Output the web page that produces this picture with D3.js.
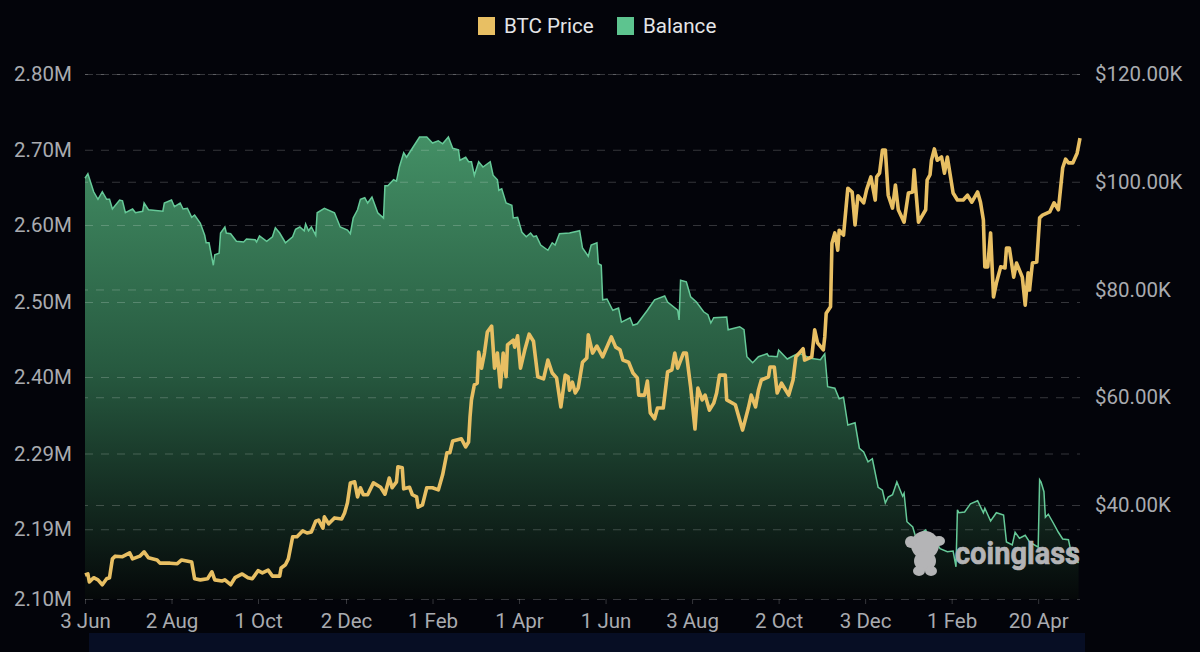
<!DOCTYPE html>
<html>
<head>
<meta charset="utf-8">
<script src="https://cdn.jsdelivr.net/npm/d3@7"></script>
<style>
  html,body{margin:0;padding:0;background:#03040a;}
  #chart{width:1200px;height:652px;overflow:hidden;}
  text{font-family:"Roboto",sans-serif;}
  .axis path{display:none;}
  .axis text{fill:#a9abb0;font-size:20.5px;}
  .grid line{stroke:#ffffff;stroke-opacity:.2;stroke-dasharray:8 8;}
  .x-axis line{stroke:#ffffff;stroke-opacity:.2;}
</style>
</head>
<body>
<div id="chart"></div>
<script>
const legendNames = ["BTC Price","Balance"];
const tickDays = [0,60,120,181,241,301,361,421,481,541,601,661];
const tickLabels = ["3 Jun","2 Aug","1 Oct","2 Dec","1 Feb","1 Apr","1 Jun","3 Aug","2 Oct","3 Dec","1 Feb","20 Apr"];
const balanceTicks = [2.80,2.699,2.5987,2.496,2.396,2.294,2.193,2.10];
const priceTicks = [120,100,80,60,40];

const balanceDays = [0,2,4,6,9,12,15,17,19,24,26,28,33,35,40,41,44,54,55,60,62,66,68,71,74,76,80,83,84,86,89,90,93,94,97,98,101,105,110,112,118,119,121,126,130,132,135,139,144,146,149,152,153,155,157,160,161,166,173,177,182,184,186,189,191,194,196,199,203,207,208,210,214,216,218,
  221,223,227,232,234,237,241,245,248,252,255,259,260,264,266,268,270,273,276,281,283,286,287,289,292,296,297,300,303,306,309,311,313,316,321,324,326,329,336,343,345,349,351,355,356,358,359,362,366,370,372,378,380,383,390,395,402,404,411,412,413,417,420,424,429,432,434,436,445,446,454,457,459,463,467,473,474,480,481,487,491,495,503,510,513,
  515,520,523,526,529,534,537,540,543,546,550,553,555,557,560,563,567,568,570,574,576,583,585,589,593,598,602,604,605,606,610,614,619,623,624,628,632,637,639,643,645,648,652,655,661,662,663,665,666,668,671,675,678,682,684,689];
const balanceValues = [2.661,2.667,2.655,2.643,2.633,2.643,2.633,2.633,2.620,2.632,2.631,2.615,2.620,2.615,2.617,2.628,2.619,2.617,2.628,2.632,2.623,2.628,2.620,2.621,2.609,2.612,2.601,2.585,2.575,2.575,2.545,2.559,2.561,2.588,2.596,2.588,2.587,2.577,2.576,2.580,2.579,2.576,2.584,2.577,2.583,2.595,2.588,2.575,2.583,2.593,2.596,2.591,2.600,2.591,2.596,2.585,2.615,2.621,2.615,2.596,2.592,2.587,2.608,2.619,2.633,2.635,2.628,2.636,2.615,2.608,2.651,2.651,2.659,2.657,2.676,
  2.695,2.689,2.701,2.716,2.716,2.716,2.708,2.711,2.707,2.716,2.701,2.699,2.685,2.689,2.683,2.683,2.665,2.683,2.676,2.683,2.665,2.659,2.645,2.647,2.628,2.625,2.608,2.609,2.589,2.583,2.588,2.583,2.584,2.572,2.565,2.575,2.572,2.587,2.588,2.591,2.568,2.557,2.572,2.575,2.547,2.545,2.499,2.500,2.485,2.488,2.469,2.475,2.465,2.467,2.485,2.499,2.504,2.496,2.485,2.472,2.525,2.523,2.503,2.496,2.483,2.479,2.468,2.475,2.476,2.459,2.463,2.459,2.423,2.415,2.423,2.427,2.424,2.423,2.432,2.420,2.424,2.428,2.421,2.419,2.427,
  2.383,2.381,2.367,2.369,2.332,2.335,2.301,2.296,2.283,2.287,2.249,2.245,2.228,2.236,2.239,2.256,2.237,2.241,2.203,2.196,2.183,2.192,2.183,2.179,2.167,2.163,2.164,2.143,2.219,2.215,2.216,2.227,2.231,2.215,2.221,2.204,2.215,2.212,2.176,2.172,2.189,2.181,2.185,2.176,2.169,2.259,2.256,2.243,2.209,2.213,2.203,2.189,2.180,2.179,2.161,2.148];

const priceDays = [0,2,3,6,9,12,15,17,19,21,26,31,33,38,41,44,50,52,59,64,67,74,76,80,85,88,90,95,97,101,104,109,113,116,120,123,127,130,135,136,139,141,144,147,151,154,157,160,162,165,166,169,173,178,180,182,184,187,189,191,193,196,200,205,208,211,213,216,217,220,221,225,227,230,231,234,237,241,245,248,251,253,255,261,264,266,267,268,270,
  272,273,275,277,279,282,284,286,288,290,292,293,297,298,300,302,305,308,311,314,318,321,324,327,330,333,335,336,338,340,342,345,348,349,352,355,359,365,368,371,373,377,380,383,384,388,390,392,395,397,401,404,407,409,411,415,417,420,423,425,428,430,433,436,438,440,444,445,451,456,460,462,465,467,469,474,475,478,480,483,488,491,493,498,499,504,506,508,512,513,514,
  517,518,520,522,523,526,529,532,534,536,540,542,545,548,549,551,553,555,557,560,562,564,568,571,574,575,578,583,584,586,587,589,591,594,596,598,602,605,609,612,615,619,621,623,624,626,628,630,632,635,638,639,641,644,646,650,652,654,655,657,660,662,664,669,672,675,678,680,682,685,688,690];
const priceValues = [27.0,27.2,25.7,26.5,26.1,25.2,26.3,26.5,30.0,30.5,30.4,31.1,30.0,30.5,31.3,30.2,29.8,29.2,29.2,29.1,29.8,29.4,26.3,26.1,26.3,27.6,26.1,25.9,26.1,25.2,26.5,27.2,26.5,26.3,27.8,27.4,27.9,26.8,26.8,28.3,28.9,30.0,34.1,34.1,35.2,34.8,35.0,37.0,37.2,35.7,37.8,36.5,37.6,37.4,38.5,40.4,44.1,44.3,41.5,43.2,41.9,41.9,44.1,43.3,42.0,45.0,43.2,44.3,47.1,46.9,43.0,43.3,41.9,41.5,39.6,40.0,43.2,43.2,42.8,45.6,49.7,49.7,51.9,52.3,50.8,51.7,56.3,59.5,62.3,
  62.6,68.4,65.4,68.2,72.1,73.2,65.4,68.2,61.9,68.2,63.8,69.7,70.6,69.3,71.4,65.4,68.8,71.7,70.4,63.8,63.4,66.9,64.5,63.6,58.2,64.1,63.8,61.3,62.8,60.8,61.7,66.5,67.3,71.6,68.2,69.5,67.5,71.2,69.3,68.8,66.9,66.5,64.5,63.6,60.4,60.4,63.0,57.1,56.0,58.0,58.0,64.7,65.1,68.2,65.4,68.2,68.2,61.9,54.1,61.7,59.5,60.4,57.6,58.9,60.8,64.1,64.1,59.5,58.6,53.9,58.0,60.4,58.2,61.3,63.2,63.8,65.6,65.6,60.8,62.6,60.4,63.2,67.5,69.0,66.9,67.5,72.5,70.1,68.8,71.2,75.6,
  76.8,88.6,90.5,87.3,91.0,90.1,98.8,98.1,92.0,97.4,96.1,98.5,100.9,96.6,100.9,101.6,105.9,105.9,97.5,95.1,99.4,94.8,92.5,97.9,98.1,102.2,92.5,94.8,100.3,101.3,104.0,106.1,104.0,104.6,101.6,104.6,97.9,96.6,96.6,97.5,96.2,98.1,96.2,92.9,84.2,84.2,90.5,78.6,81.2,84.2,84.0,87.7,87.7,82.3,84.9,82.3,77.1,83.1,79.9,84.9,85.1,93.3,93.8,94.4,96.1,94.8,102.6,104.2,103.5,103.5,105.3,108.1];

const width = 1200, height = 652;
const margin = {"top":74,"right":120,"bottom":53,"left":85};
const plotRight = width - margin.right;
const plotBottom = height - margin.bottom;

const xScale = d3.scaleLinear().domain([0,690]).range([margin.left,plotRight]);
const yLeft = d3.scaleLinear().domain([2.10,2.80]).range([plotBottom,margin.top]);
const yRight = d3.scaleLinear().domain([22.55,120]).range([plotBottom,margin.top]);

const svg = d3.select("#chart").append("svg")
  .attr("width",width)
  .attr("height",height)
  .style("display","block");

// strip at the very bottom of the screenshot
svg.append("rect")
  .attr("x",89).attr("y",633)
  .attr("width",996).attr("height",19)
  .attr("fill","#070e24");

const defs = svg.append("defs");
const grad = defs.append("linearGradient")
  .attr("id","balanceFill")
  .attr("gradientUnits","userSpaceOnUse")
  .attr("x1",0).attr("x2",0)
  .attr("y1",137).attr("y2",plotBottom);
grad.append("stop").attr("offset","0").attr("stop-color","#438f65");
grad.append("stop").attr("offset","0.5").attr("stop-color","#275a40");
grad.append("stop").attr("offset","1").attr("stop-color","#050809");

const balance = balanceDays.map((d,i) => ({day:d,value:balanceValues[i]}));
const price = priceDays.map((d,i) => ({day:d,value:priceValues[i]}));

const area = d3.area()
  .x(d => xScale(d.day))
  .y0(plotBottom)
  .y1(d => yLeft(d.value));
const balanceLine = d3.line()
  .x(d => xScale(d.day))
  .y(d => yLeft(d.value));
const priceLine = d3.line()
  .x(d => xScale(d.day))
  .y(d => yRight(d.value));

svg.append("path").datum(balance)
  .attr("fill","url(#balanceFill)")
  .attr("d",area);

// left axis with the gridlines of the balance scale
svg.append("g")
  .attr("class","axis grid left-axis")
  .attr("transform",`translate(${margin.left},0)`)
  .call(d3.axisLeft(yLeft)
    .tickValues(balanceTicks)
    .tickFormat(d => d.toFixed(2) + "M")
    .tickSize(-(plotRight-margin.left)))
  .call(g => g.selectAll("text").attr("text-anchor","start").attr("x",-71));

svg.append("g")
  .attr("class","axis grid")
  .attr("transform",`translate(${plotRight},0)`)
  .call(d3.axisRight(yRight)
    .tickValues(priceTicks)
    .tickFormat(d => "$" + d.toFixed(2) + "K")
    .tickSize(-(plotRight-margin.left)))
  .call(g => g.selectAll("text").attr("x",15));

svg.append("g")
  .attr("class","axis x-axis")
  .attr("transform",`translate(0,${plotBottom})`)
  .call(d3.axisBottom(xScale)
    .tickValues(tickDays)
    .tickFormat((d,i) => tickLabels[i])
    .tickSize(5)
    .tickPadding(9));

svg.append("path").datum(balance)
  .attr("fill","none")
  .attr("stroke","#66c998")
  .attr("stroke-width",1.5)
  .attr("d",balanceLine);

svg.append("path").datum(price)
  .attr("fill","none")
  .attr("stroke","#e8bf63")
  .attr("stroke-width",3.6)
  .attr("stroke-linejoin","round")
  .attr("d",priceLine);

// legend
const legendX = [478,617];
const legendColors = ["#e8bf63","#5dc48f"];
legendNames.forEach((name,i) => {
  svg.append("rect")
    .attr("x",legendX[i]).attr("y",17)
    .attr("width",17).attr("height",18)
    .attr("fill",legendColors[i]);
  svg.append("text")
    .attr("x",legendX[i]+26).attr("y",32.5)
    .attr("fill","#e4e5e7")
    .style("font-size","20.6px")
    .text(name);
});

// watermark
const mark = svg.append("g").attr("fill","#b4b4b6");
mark.append("ellipse").attr("cx",925).attr("cy",545).attr("rx",14).attr("ry",14);
mark.append("ellipse").attr("cx",911).attr("cy",542).attr("rx",6).attr("ry",6);
mark.append("ellipse").attr("cx",939).attr("cy",541).attr("rx",6).attr("ry",5);
mark.append("ellipse").attr("cx",925).attr("cy",561).attr("rx",11).attr("ry",10);
mark.append("ellipse").attr("cx",919).attr("cy",571).attr("rx",6).attr("ry",5);
mark.append("ellipse").attr("cx",931).attr("cy",571).attr("rx",6).attr("ry",5);
svg.append("text")
  .attr("x",955).attr("y",564)
  .attr("fill","#b4b4b6")
  .attr("stroke","#b4b4b6")
  .attr("stroke-width",0.7)
  .attr("textLength",125)
  .attr("lengthAdjust","spacingAndGlyphs")
  .style("font-size","31px")
  .style("font-weight","700")
  .text("coinglass");
</script>
</body>
</html>
